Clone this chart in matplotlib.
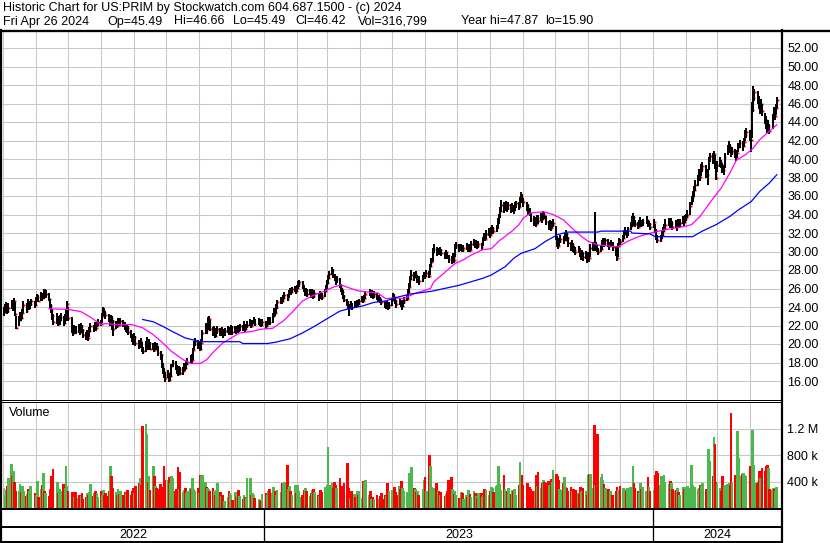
import matplotlib
matplotlib.use("Agg")
import matplotlib.pyplot as plt
import matplotlib.dates as mdates
import numpy as np
import pandas as pd

plt.rcParams['font.family'] = ['Liberation Sans', 'DejaVu Sans']

# trading calendar (NYSE holidays inside the window)
holidays = ['2022-05-30', '2022-06-20', '2022-07-04', '2022-09-05', '2022-11-24', '2022-12-26',
            '2023-01-02', '2023-01-16', '2023-02-20', '2023-04-07', '2023-05-29', '2023-06-19',
            '2023-07-04', '2023-09-04', '2023-11-23', '2023-12-25',
            '2024-01-01', '2024-01-15', '2024-02-19', '2024-03-29']
dates = pd.bdate_range('2022-05-02', '2024-04-26', freq='C', holidays=holidays)

closes = [
    23.5, 23.8, 24.1, 23.6, 23.9, 24.3, 24.0, 24.6, 23.2, 21.7, 22.6, 23.1, 22.8, 23.4, 24.2, 23.6, 24.5, 23.9, 24.3, 24.6,
    24.2, 24.8, 25.1, 24.7, 25.3, 25.0, 25.6, 25.2, 25.4, 24.9, 24.1, 23.6, 23.0, 22.4, 22.9, 22.2, 22.6, 22.9, 22.3, 22.7,
    23.4, 24.3, 22.8, 21.6, 21.2, 21.8, 21.4, 21.7, 21.3, 21.9, 21.5, 21.0, 20.7, 21.2, 20.6, 21.4, 21.9, 21.6, 22.0, 21.7,
    22.1, 22.4, 22.2, 23.0, 23.6, 23.3, 23.1, 22.7, 22.4, 22.8, 22.5, 21.6, 22.2, 22.0, 22.4, 22.1, 22.5, 22.2, 21.9, 21.5,
    21.7, 21.3, 21.0, 20.6, 20.2, 20.8, 20.1, 19.8, 20.3, 19.4, 19.2, 19.9, 20.4, 19.7, 20.1, 19.5, 19.8, 19.4, 19.9, 19.6,
    19.0, 18.8, 17.6, 17.1, 16.7, 16.3, 16.9, 16.1, 16.5, 17.6, 17.9, 17.5, 17.2, 16.8, 17.3, 16.9, 17.1, 17.6, 17.4, 17.8,
    18.1, 18.5, 18.3, 19.4, 20.0, 20.3, 19.7, 19.9, 19.5, 20.1, 21.2, 21.8, 21.5, 22.4, 22.7, 21.6, 21.2, 21.5, 20.9, 21.4,
    21.6, 21.1, 21.5, 21.0, 21.4, 21.7, 21.2, 21.5, 21.8, 21.3, 21.6, 21.4, 21.8, 21.5, 21.9, 21.7, 22.0, 21.6, 21.9, 22.1,
    22.4, 22.0, 22.3, 22.6, 22.2, 22.5, 22.3, 22.1, 22.4, 21.9, 22.2, 22.7, 22.4, 23.0, 23.6, 23.3, 24.0, 24.5, 24.8, 24.6,
    25.0, 25.3, 24.9, 25.5, 25.8, 25.6, 25.9, 26.0, 25.7, 26.1, 26.5, 26.7, 26.2, 25.9, 25.5, 25.8, 25.4, 25.7, 25.3, 25.6,
    25.2, 25.5, 25.0, 25.4, 25.3, 25.1, 25.7, 26.1, 26.6, 27.1, 27.6, 28.0, 27.4, 27.2, 26.8, 27.0, 26.3, 25.9, 25.6, 25.2,
    24.8, 24.5, 24.1, 23.9, 24.3, 24.0, 24.4, 24.2, 24.5, 24.3, 24.6, 24.9, 24.7, 25.0, 25.4, 25.6, 25.3, 25.5, 25.2, 25.4,
    25.1, 24.8, 25.0, 24.7, 24.5, 24.3, 24.1, 24.4, 24.0, 24.2, 24.8, 25.2, 25.0, 24.6, 24.3, 24.7, 24.4, 24.1, 24.5, 24.8,
    24.9, 25.6, 26.2, 27.0, 27.5, 27.2, 27.6, 26.9, 27.1, 26.8, 27.2, 27.5, 27.3, 27.7, 27.4, 28.4, 28.9, 30.0, 30.3, 29.8,
    30.1, 29.9, 30.2, 29.8, 29.6, 29.9, 29.5, 29.2, 29.0, 29.4, 29.1, 30.5, 30.7, 30.3, 30.5, 30.2, 30.4, 30.6, 30.3, 30.5,
    30.2, 30.8, 31.0, 30.7, 30.9, 30.6, 30.8, 30.5, 31.3, 31.6, 31.4, 31.9, 32.1, 31.8, 32.3, 32.5, 32.2, 32.6, 33.2, 33.7,
    34.4, 35.0, 34.6, 34.8, 35.1, 34.7, 35.0, 34.6, 34.8, 34.5, 34.9, 35.2, 34.8, 35.5, 35.9, 35.6, 35.3, 34.9, 34.5, 34.2,
    33.5, 33.1, 33.4, 33.0, 33.6, 33.3, 33.8, 33.5, 34.0, 33.9, 33.2, 32.7, 33.0, 32.5, 32.9, 33.1, 31.5, 30.9, 30.6, 31.1,
    31.4, 31.2, 31.6, 31.9, 31.5, 30.9, 30.5, 30.8, 30.4, 30.2, 30.0, 30.3, 29.8, 29.5, 29.8, 29.4, 29.7, 29.2, 29.5, 29.3,
    30.4, 30.6, 30.5, 30.7, 30.2, 30.0, 30.3, 30.8, 31.1, 30.9, 31.2, 30.8, 30.6, 30.9, 30.5, 29.8, 29.3, 30.6, 31.2, 31.0,
    31.5, 31.9, 32.2, 31.8, 32.4, 32.8, 33.4, 33.7, 33.1, 33.0, 32.7, 33.1, 33.3, 32.9, 33.2, 33.4, 32.9, 33.0, 32.6, 33.2,
    32.3, 31.6, 31.2, 31.4, 31.8, 32.2, 32.5, 32.9, 33.2, 32.8, 33.1, 32.7, 32.9, 32.6, 33.0, 32.8, 33.1, 33.4, 33.2, 33.5,
    33.7, 34.0, 34.9, 35.6, 35.9, 36.6, 37.2, 37.8, 38.4, 38.1, 38.9, 39.2, 38.6, 38.3, 39.8, 40.3, 40.0, 40.5, 39.7, 38.0,
    39.3, 39.7, 39.4, 39.0, 38.8, 40.2, 41.0, 41.4, 41.1, 40.7, 40.9, 40.5, 40.2, 40.6, 41.3, 41.7, 41.4, 41.8, 42.6, 42.9,
    42.5, 42.1, 45.3, 46.6, 47.2, 46.7, 46.1, 45.6, 46.0, 45.2, 44.3, 43.8, 43.2, 43.6, 43.0, 44.5, 45.1, 44.7, 45.5, 46.42,
]

highs = [
    24.0, 24.3, 24.5, 24.2, 24.4, 24.8, 24.6, 25.0, 24.5, 23.0, 23.0, 23.5, 23.4, 23.8, 24.7, 24.4, 24.9, 24.6, 24.7, 24.9,
    24.7, 25.1, 25.4, 25.3, 25.6, 25.5, 26.0, 25.9, 25.8, 25.5, 24.9, 24.3, 23.8, 23.2, 23.3, 23.0, 23.1, 23.4, 23.0, 23.2,
    23.8, 24.7, 24.0, 22.9, 21.9, 22.1, 21.9, 22.2, 21.9, 22.3, 22.1, 21.6, 21.3, 21.5, 21.3, 21.8, 22.3, 22.1, 22.4, 22.2,
    22.4, 22.7, 22.6, 23.3, 24.0, 23.9, 23.6, 23.2, 22.9, 23.1, 23.0, 22.6, 22.5, 22.4, 22.8, 22.6, 22.8, 22.6, 22.4, 22.0,
    22.1, 21.9, 21.5, 21.1, 20.8, 21.2, 20.9, 20.4, 20.6, 20.2, 19.7, 20.3, 20.8, 20.5, 20.5, 20.2, 20.1, 19.9, 20.2, 20.1,
    19.8, 19.2, 18.9, 17.9, 17.4, 17.0, 17.2, 16.9, 16.9, 17.8, 18.3, 18.2, 17.7, 17.4, 17.6, 17.5, 17.5, 17.9, 17.9, 18.2,
    18.5, 18.8, 18.9, 19.6, 20.3, 20.6, 20.4, 20.3, 20.1, 20.5, 21.5, 22.3, 22.0, 22.9, 23.0, 22.6, 21.8, 21.9, 21.6, 21.7,
    21.9, 21.7, 21.8, 21.6, 21.7, 22.0, 21.8, 21.8, 22.1, 21.9, 21.9, 21.9, 22.1, 22.0, 22.2, 22.1, 22.5, 22.2, 22.2, 22.5,
    22.7, 22.5, 22.6, 22.9, 22.7, 22.8, 22.7, 22.5, 22.7, 22.5, 22.5, 22.9, 22.9, 23.3, 23.9, 23.8, 24.3, 24.8, 25.1, 25.0,
    25.3, 25.6, 25.4, 25.8, 26.1, 26.0, 26.2, 26.3, 26.1, 26.4, 26.8, 26.9, 26.8, 26.4, 26.0, 26.1, 25.9, 26.0, 25.8, 25.9,
    25.7, 25.8, 25.5, 25.7, 25.6, 25.5, 25.9, 26.4, 26.9, 27.5, 27.9, 28.3, 28.1, 27.6, 27.3, 27.4, 27.1, 26.5, 26.1, 25.8,
    25.3, 24.9, 24.7, 24.3, 24.6, 24.4, 24.7, 24.6, 24.8, 24.7, 24.9, 25.2, 25.1, 25.3, 25.7, 25.9, 25.7, 25.8, 25.6, 25.7,
    25.5, 25.2, 25.3, 25.1, 24.9, 24.7, 24.5, 24.7, 24.4, 24.5, 25.0, 25.5, 25.4, 25.1, 24.8, 25.0, 24.8, 24.6, 24.8, 25.1,
    25.3, 25.9, 26.6, 27.4, 28.0, 27.8, 27.9, 27.5, 27.4, 27.3, 27.5, 27.8, 27.8, 28.0, 27.9, 28.7, 29.3, 30.4, 30.8, 30.5,
    30.4, 30.3, 30.5, 30.3, 30.0, 30.2, 30.0, 29.6, 29.5, 29.8, 29.7, 30.8, 31.0, 30.8, 30.8, 30.6, 30.7, 30.9, 30.8, 30.8,
    30.6, 31.1, 31.4, 31.2, 31.2, 31.0, 31.1, 30.9, 31.6, 32.0, 31.9, 32.3, 32.5, 32.3, 32.6, 32.9, 32.7, 32.9, 33.6, 34.1,
    34.8, 35.6, 35.3, 35.2, 35.5, 35.2, 35.4, 35.1, 35.2, 35.0, 35.3, 35.5, 35.3, 35.9, 36.4, 36.2, 35.8, 35.4, 35.1, 34.7,
    34.2, 33.8, 33.7, 33.6, 34.0, 33.9, 34.2, 34.0, 34.4, 34.3, 33.8, 33.3, 33.4, 33.0, 33.3, 33.5, 32.8, 31.7, 31.3, 31.5,
    31.8, 31.7, 32.0, 32.3, 32.0, 31.6, 31.0, 31.2, 30.9, 30.6, 30.5, 30.6, 30.4, 30.0, 30.2, 29.9, 30.1, 29.8, 29.9, 29.8,
    30.8, 31.0, 34.3, 31.0, 30.8, 30.4, 30.7, 31.2, 31.5, 31.3, 31.5, 31.3, 31.0, 31.2, 31.0, 30.6, 29.9, 30.9, 31.5, 31.4,
    31.8, 32.3, 32.6, 32.3, 32.7, 33.2, 33.8, 34.2, 33.8, 33.4, 33.2, 33.4, 33.7, 33.4, 33.5, 33.8, 33.4, 33.3, 33.1, 33.5,
    33.0, 32.4, 31.8, 31.8, 32.2, 32.6, 33.0, 33.5, 33.6, 33.4, 33.6, 33.3, 33.4, 33.1, 33.5, 33.3, 33.5, 33.8, 33.7, 33.9,
    34.1, 34.5, 35.3, 36.0, 36.5, 37.1, 37.7, 38.3, 38.9, 38.7, 39.5, 39.7, 39.3, 38.9, 40.2, 40.7, 40.6, 40.9, 40.4, 39.0,
    39.8, 40.2, 39.9, 39.6, 39.4, 40.6, 41.5, 41.9, 41.6, 41.2, 41.3, 41.1, 40.7, 41.0, 41.7, 42.1, 41.9, 42.3, 43.1, 43.4,
    43.1, 42.8, 46.2, 47.87, 47.6, 47.3, 46.8, 46.4, 46.5, 46.0, 45.0, 44.6, 44.1, 44.2, 43.8, 44.9, 45.6, 45.4, 46.0, 46.66,
]

lows = [
    23.0, 23.3, 23.5, 23.2, 23.4, 23.8, 23.6, 24.0, 23.0, 21.6, 21.9, 22.5, 22.5, 22.7, 23.3, 23.4, 23.7, 23.7, 23.8, 24.1,
    23.9, 24.1, 24.6, 24.5, 24.7, 24.7, 24.9, 25.0, 25.0, 24.6, 23.9, 23.3, 22.6, 22.1, 22.2, 21.9, 22.1, 22.5, 22.0, 22.2,
    22.5, 23.2, 22.5, 21.2, 20.9, 21.1, 21.1, 21.2, 21.0, 21.3, 21.2, 20.7, 20.4, 20.6, 20.3, 20.8, 21.3, 21.3, 21.6, 21.4,
    21.8, 22.0, 21.9, 22.3, 23.0, 23.0, 22.7, 22.4, 22.0, 22.3, 21.5, 20.9, 21.6, 21.7, 22.0, 21.9, 22.1, 21.8, 21.5, 21.3,
    21.2, 21.0, 20.7, 20.2, 19.9, 20.2, 19.8, 19.5, 19.6, 19.1, 18.9, 19.1, 19.8, 19.4, 19.5, 19.3, 19.3, 19.1, 19.3, 19.3,
    18.7, 18.3, 17.4, 16.8, 16.3, 15.9, 16.3, 15.9, 16.0, 16.4, 17.5, 17.2, 16.8, 16.5, 16.8, 16.6, 16.7, 17.1, 17.1, 17.3,
    17.7, 18.0, 17.9, 18.3, 19.3, 19.8, 19.5, 19.5, 19.2, 19.4, 20.2, 21.1, 21.1, 21.5, 22.0, 21.4, 20.9, 21.0, 20.6, 20.8,
    21.1, 20.9, 20.9, 20.7, 20.9, 21.2, 21.0, 21.0, 21.4, 21.0, 21.2, 21.1, 21.2, 21.3, 21.4, 21.4, 21.6, 21.3, 21.5, 21.7,
    22.0, 21.7, 21.9, 22.2, 21.9, 22.1, 22.0, 21.8, 22.0, 21.6, 21.8, 22.1, 22.1, 22.3, 22.9, 23.0, 23.3, 23.8, 24.3, 24.3,
    24.5, 24.9, 24.6, 25.0, 25.4, 25.3, 25.5, 25.6, 25.4, 25.6, 26.0, 26.2, 26.0, 25.6, 25.2, 25.3, 25.1, 25.3, 25.0, 25.2,
    24.9, 25.0, 24.7, 24.9, 25.0, 24.8, 25.1, 25.6, 26.0, 26.5, 27.0, 27.5, 27.1, 26.8, 26.4, 26.6, 26.1, 25.6, 25.3, 24.9,
    24.5, 24.1, 23.8, 23.0, 23.8, 23.7, 24.0, 23.9, 24.1, 24.0, 24.2, 24.5, 24.4, 24.6, 24.9, 25.2, 25.0, 25.1, 24.9, 25.0,
    24.8, 24.5, 24.6, 24.4, 24.2, 23.9, 23.8, 24.0, 23.7, 23.8, 24.1, 24.7, 24.6, 24.3, 23.9, 24.2, 24.0, 23.7, 24.0, 24.3,
    24.6, 24.9, 25.5, 26.2, 26.9, 26.8, 27.1, 26.6, 26.7, 26.4, 26.7, 27.0, 27.0, 27.2, 27.1, 27.5, 28.3, 28.9, 29.8, 29.5,
    29.6, 29.6, 29.8, 29.5, 29.2, 29.5, 29.2, 28.8, 28.7, 28.9, 28.8, 29.4, 30.3, 30.0, 30.1, 29.9, 30.0, 30.2, 30.0, 30.1,
    29.9, 30.2, 30.6, 30.4, 30.5, 30.3, 30.4, 30.2, 30.6, 31.2, 31.1, 31.3, 31.7, 31.5, 31.8, 32.1, 31.9, 32.1, 32.4, 33.0,
    33.6, 34.3, 34.2, 34.4, 34.6, 34.3, 34.5, 34.2, 34.3, 34.1, 34.4, 34.7, 34.5, 34.8, 35.3, 35.2, 34.8, 34.4, 34.0, 33.8,
    33.2, 32.8, 32.9, 32.7, 33.0, 33.0, 33.3, 33.1, 33.4, 33.5, 32.9, 32.3, 32.6, 32.2, 32.5, 32.7, 31.2, 30.5, 30.3, 30.6,
    30.9, 30.8, 31.1, 31.4, 31.1, 30.5, 30.1, 30.3, 30.0, 29.8, 29.6, 29.8, 29.4, 29.1, 29.3, 29.0, 29.2, 28.8, 29.1, 28.9,
    29.4, 30.1, 30.1, 30.2, 29.9, 29.6, 29.9, 30.2, 30.7, 30.5, 30.7, 30.5, 30.2, 30.5, 30.1, 29.5, 29.0, 29.4, 30.5, 30.6,
    31.0, 31.4, 31.8, 31.5, 31.7, 32.3, 32.7, 33.2, 32.8, 32.6, 32.4, 32.6, 32.9, 32.6, 32.8, 33.0, 32.6, 32.6, 32.3, 32.5,
    32.0, 31.2, 30.9, 31.0, 31.3, 31.7, 32.1, 32.4, 32.8, 32.5, 32.6, 32.3, 32.5, 32.2, 32.6, 32.5, 32.7, 33.0, 32.8, 33.1,
    33.3, 33.6, 34.0, 35.0, 35.4, 35.9, 36.5, 37.1, 37.7, 37.6, 38.2, 38.6, 38.0, 37.2, 38.8, 39.7, 39.5, 39.8, 38.9, 37.7,
    38.6, 39.1, 39.0, 38.5, 38.3, 39.0, 40.4, 40.9, 40.6, 40.2, 40.4, 40.1, 39.8, 40.1, 40.8, 41.2, 40.9, 41.3, 41.9, 42.3,
    42.0, 40.8, 42.3, 45.1, 46.3, 46.0, 45.4, 44.9, 45.3, 44.7, 43.8, 43.2, 42.8, 42.9, 42.7, 43.2, 44.4, 44.2, 44.8, 45.49,
]

# daily volume, thousands of shares
volumes = [
    300, 200, 275, 325, 450, 670, 480, 560, 400, 250, 250, 360, 240, 330, 260, 180, 210, 280, 250, 330,
    230, 190, 410, 170, 280, 340, 530, 250, 230, 180, 290, 490, 310, 590, 400, 220, 290, 250, 360, 300,
    630, 330, 260, 240, 220, 160, 240, 150, 200, 180, 220, 140, 170, 230, 200, 240, 360, 180, 220, 260,
    220, 170, 250, 200, 270, 190, 230, 180, 260, 630, 490, 300, 240, 190, 280, 210, 260, 200, 180, 240,
    220, 270, 190, 250, 300, 230, 330, 380, 450, 350, 1240, 1270, 1120, 390, 490, 270, 630, 480, 330, 300,
    280, 360, 310, 280, 630, 430, 430, 470, 380, 490, 460, 250, 290, 615, 280, 550, 240, 270, 300, 230,
    250, 300, 280, 460, 280, 250, 300, 230, 500, 480, 500, 400, 320, 300, 280, 260, 300, 250, 200, 270,
    380, 240, 180, 200, 110, 160, 250, 220, 190, 120, 240, 170, 200, 270, 180, 140, 190, 170, 150, 460,
    460, 200, 220, 190, 150, 140, 100, 120, 210, 230, 200, 250, 280, 230, 310, 260, 190, 270, 240, 380,
    370, 400, 650, 280, 330, 260, 190, 350, 220, 340, 260, 160, 200, 140, 270, 300, 250, 180, 230, 270,
    290, 240, 200, 180, 270, 240, 320, 290, 340, 920, 350, 370, 300, 390, 340, 300, 450, 260, 330, 290,
    380, 680, 300, 240, 150, 260, 210, 170, 260, 190, 250, 150, 410, 400, 420, 200, 250, 130, 160, 140,
    200, 110, 130, 180, 220, 140, 200, 180, 380, 250, 270, 220, 310, 240, 200, 330, 280, 410, 300, 250,
    240, 180, 530, 330, 620, 300, 290, 240, 250, 200, 280, 430, 475, 260, 800, 630, 320, 260, 300, 380,
    250, 260, 200, 240, 180, 210, 260, 430, 470, 280, 210, 250, 190, 150, 240, 220, 140, 200, 160, 270,
    210, 170, 250, 230, 180, 150, 220, 230, 160, 190, 280, 270, 200, 250, 310, 300, 240, 330, 350, 630,
    360, 270, 500, 290, 240, 250, 300, 210, 270, 250, 290, 200, 340, 700, 310, 500, 350, 380, 270, 310,
    290, 260, 250, 500, 330, 540, 300, 380, 420, 400, 380, 410, 350, 440, 400, 580, 520, 480, 430, 290,
    270, 380, 475, 320, 300, 260, 310, 250, 280, 220, 270, 230, 210, 320, 260, 300, 250, 200, 500, 520,
    520, 300, 1250, 350, 760, 1110, 470, 520, 430, 360, 300, 280, 230, 250, 200, 260, 310, 270, 250, 330,
    300, 280, 270, 250, 300, 320, 240, 640, 380, 300, 260, 230, 370, 290, 310, 260, 475, 310, 250, 270,
    500, 560, 530, 350, 480, 450, 500, 400, 360, 410, 380, 290, 250, 270, 300, 240, 200, 310, 280, 320,
    270, 330, 300, 650, 340, 300, 320, 290, 300, 350, 330, 380, 290, 260, 895, 715, 480, 1070, 965, 400,
    360, 300, 250, 490, 280, 350, 360, 380, 340, 1440, 370, 500, 410, 1160, 755, 480, 520, 530, 500, 490,
    630, 420, 1180, 655, 370, 380, 390, 565, 450, 600, 565, 630, 655, 600, 290, 270, 300, 280, 250, 316.8,
]

# moving averages (trading-day index, price)
ma_short_idx = [29, 42, 49, 56, 62, 66, 73, 83, 90, 96, 103, 109, 116, 121, 128, 132, 137, 143, 148, 154,
                161, 167, 173, 180, 186, 192, 199, 205, 211, 217, 222, 229, 235, 241, 246, 253, 259, 265, 275, 278,
                284, 291, 296, 301, 308, 314, 320, 327, 332, 336, 340, 348, 355, 361, 367, 374, 378, 385, 391, 397,
                404, 410, 417, 427, 438, 443, 449, 455, 462, 468, 472, 479, 483, 487, 494, 499]
ma_short = [23.8, 23.75, 23.5, 22.9, 22.1, 22.2, 22.1, 22.1, 21.75, 21.0, 20.1, 19.2, 18.3, 17.9, 17.9, 18.3, 19.2, 20.1, 20.65, 21.2,
            21.35, 21.6, 21.7, 22.5, 23.4, 24.65, 25.2, 25.6, 26.1, 26.4, 26.1, 25.75, 25.6, 25.5, 24.9, 25.0, 24.9, 25.45, 26.0, 26.7,
            27.8, 28.7, 29.1, 29.6, 30.2, 30.3, 31.2, 32.15, 32.9, 33.6, 34.15, 34.3, 34.0, 33.4, 32.5, 31.6, 31.1, 30.7, 30.6, 30.5,
            31.1, 31.6, 31.95, 32.35, 32.7, 32.9, 33.8, 35.25, 36.9, 38.5, 39.85, 40.5, 41.2, 42.1, 43.0, 43.7]

ma_long_idx = [90, 96, 103, 109, 118, 125, 126, 154, 155, 170, 176, 184, 192, 201, 209, 216, 222, 231, 239, 246,
               253, 263, 276, 293, 308, 314, 323, 329, 334, 342, 350, 357, 361, 365, 385, 386, 405, 406, 418, 420,
               444, 451, 459, 468, 474, 481, 487, 494, 499]
ma_long = [22.65, 22.4, 21.9, 21.4, 20.65, 20.4, 20.25, 20.25, 20.05, 20.05, 20.2, 20.55, 21.2, 21.9, 22.8, 23.55, 23.8, 24.1, 24.5, 24.65,
           25.0, 25.4, 25.7, 26.35, 27.1, 27.45, 28.35, 29.25, 29.8, 30.3, 31.1, 31.8, 32.0, 32.1, 32.1, 32.2, 32.2, 32.0, 31.9, 31.6,
           31.6, 32.2, 32.9, 33.8, 34.5, 35.4, 36.5, 37.4, 38.3]

price_ticks = list(range(16, 54, 2))
vol_ticks = [400, 800, 1200]
vol_tick_labels = ['400 k', '800 k', '1.2 M']
years = ['2022', '2023', '2024']

header1 = 'Historic Chart for US:PRIM by Stockwatch.com 604.687.1500 - (c) 2024'
header2 = ['Fri Apr 26 2024', 'Op=45.49', 'Hi=46.66', 'Lo=45.49', 'Cl=46.42',
           'Vol=316,799', 'Year hi=47.87', 'lo=15.90']
header2_x = [3, 107, 174, 233, 295, 358, 461, 545]

# ------------------------------------------------------------------
W, H = 830, 543
fig = plt.figure(figsize=(W / 100, H / 100), dpi=100)
fig.patch.set_facecolor('white')


def px_axes(x0, y0, x1, y1):
    # pixel box (y measured from top) -> figure axes
    return fig.add_axes([x0 / W, 1 - y1 / H, (x1 - x0) / W, (y1 - y0) / H])


x = mdates.date2num(dates.to_pydatetime())
c = np.array(closes)
hi = np.array(highs)
lo = np.array(lows)
v = np.array(volumes)

px_per_day = 389.0 / 365.0
x_left = mdates.date2num(pd.Timestamp('2022-04-30').to_pydatetime())
x_right = x_left + 779 / px_per_day

grid_kw = dict(color='#c8c8c8', lw=0.75)
months = mdates.MonthLocator()

# price panel
ax = px_axes(2, 32, 781, 400)
ax.set_xlim(x_left, x_right)
ax.set_ylim(52 - (400 - 48) / 9.25, 52 + (48 - 32) / 9.25)
ax.xaxis.set_major_locator(months)
ax.set_yticks(price_ticks)
ax.set_yticklabels(['%.2f' % t for t in price_ticks])
ax.yaxis.tick_right()
ax.tick_params(axis='y', length=0, pad=4.5, labelsize=9)
ax.tick_params(axis='x', length=0, labelbottom=False)
ax.grid(True, **grid_kw)
ax.set_axisbelow(True)
for s in ax.spines.values():
    s.set_visible(False)

ax.plot(x + 0.8, c, ls='none', marker='s', ms=1.4, mew=0, color='red', zorder=3)
ax.vlines(x, lo, hi, color='black', lw=1.1, zorder=4, antialiased=False)
ax.plot(x[ma_short_idx], ma_short, color='#ff00ff', lw=0.9, zorder=5)
ax.plot(x[ma_long_idx], ma_long, color='#0000ff', lw=0.9, zorder=5)
ax.text(9, 41.5, 'US:PRIM', transform=None, fontsize=9)

# volume panel
axv = px_axes(2, 403, 781, 508.5)
axv.set_xlim(x_left, x_right)
axv.set_ylim(-0.5 * 400 / 26.5, (508 - 403) * 400 / 26.5)
axv.xaxis.set_major_locator(months)
axv.set_yticks(vol_ticks)
axv.set_yticklabels(vol_tick_labels)
axv.yaxis.tick_right()
axv.tick_params(axis='y', length=0, pad=4.5, labelsize=9)
axv.tick_params(axis='x', length=0, labelbottom=False)
axv.grid(True, **grid_kw)
axv.set_axisbelow(True)
for s in axv.spines.values():
    s.set_visible(False)

chg = np.diff(c, prepend=c[0])
vcol = np.where(chg > 0, '#4db84d', np.where(chg < 0, '#ff0000', '#a8a8a8'))
axv.bar(x, v, width=2.5, color=vcol, linewidth=0, zorder=3, antialiased=False)

# frame, separators and text in pixel coordinates
ov = fig.add_axes([0, 0, 1, 1])
ov.set_xlim(0, W)
ov.set_ylim(H, 0)
ov.axis('off')
ov.patch.set_alpha(0)

k = 0.72
ov.plot([0, W], [30.5, 30.5], color='black', lw=2.3 * k)
ov.plot([1, 1], [30, H], color='black', lw=2.2 * k)
ov.plot([782, 782], [30, H], color='black', lw=2.2 * k)
ov.plot([0, 782], [400.3, 400.3], color='black', lw=1.0 * k)
ov.plot([0, 782], [402.4, 402.4], color='black', lw=1.0 * k)
ov.plot([0, 782], [509.3, 509.3], color='black', lw=2.0 * k)
ov.plot([0, 782], [527.0, 527.0], color='black', lw=2.0 * k)
ov.plot([0, 782], [541.8, 541.8], color='black', lw=2.0 * k)

ov.text(3, 8.5, header1, fontsize=9, va='center', ha='left')
for lbl, xp in zip(header2, header2_x):
    ov.text(xp, 21.5, lbl, fontsize=9, va='center', ha='left')

ov.text(8.5, 413, 'Volume', fontsize=9, va='center', ha='left')

# year strip
bounds = [2] + [264.3 + i * 389.0 for i in range(len(years) - 1)] + [781]
for b in bounds[1:-1]:
    ov.plot([b, b], [510, 541], color='black', lw=1.3 * k)
for i, yr in enumerate(years):
    ov.text((bounds[i] + bounds[i + 1]) / 2, 535, yr, fontsize=9, ha='center', va='center')

fig.savefig('out.png', dpi=100)
